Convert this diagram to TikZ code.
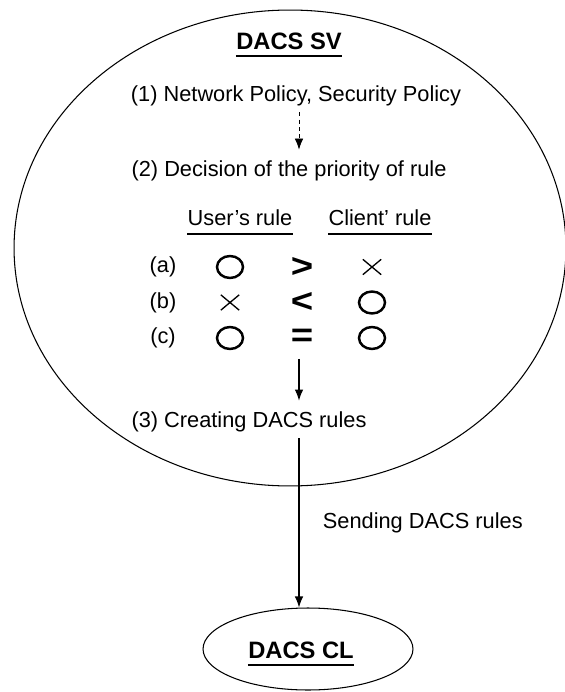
\documentclass[tikz,border=0pt]{standalone}
\usepackage{fontspec}
\setmainfont{Liberation Sans}
\usetikzlibrary{shapes.geometric,shapes.misc,arrows.meta}

\begin{document}
\begin{tikzpicture}[x=0.02cm, y=-0.02cm,
	>={Latex[length=2.2mm,width=1.7mm]},
	txt/.style={font=\fontsize{12.4}{14}\selectfont},
	head/.style={font=\fontsize{13.5}{15}\selectfont\bfseries, inner xsep=0pt},
	oper/.style={font=\fontsize{19}{19}\selectfont\bfseries, inner sep=1pt, xscale=1.15},
	okmark/.style={draw, ellipse, line width=1.4pt, inner sep=0pt,
		minimum width=0.52cm, minimum height=0.44cm},
	ngmark/.style={draw, cross out, line width=0.75pt, inner sep=0pt,
		minimum width=0.34cm, minimum height=0.28cm},
	uline/.style={line width=1.4pt}]

	% ---- frame

	\useasboundingbox (0,0) rectangle (564,692);

	% ---- parameters

	\def\spinex{299}

	\coordinate (spine) at (\spinex,0);

	% ---- server

	\draw[line width=0.6pt] (290,248) ellipse (5.52cm and 4.76cm);

	\node[head] (sv) at (289,41) {DACS SV};
	\draw[uline] ([yshift=-1.4mm]sv.base west) -- ([yshift=-1.4mm]sv.base east);

	\node[txt] (p1) at (296,96) {(1) Network Policy, Security Policy};
	\node[txt] (p2) at (289,171) {(2) Decision of the priority of rule};

	\draw[->, dash pattern=on 2.2pt off 2pt] (p1.south -| spine) -- ([yshift=1mm]p2.north -| spine);

	% ---- rule table

	\node[txt, inner xsep=0pt] (usr) at (240,218) {User's rule};
	\node[txt, inner xsep=0pt] (cli) at (380,218) {Client' rule};
	\draw[uline] ([yshift=-1.6mm]usr.base west) -- ([yshift=-1.6mm]usr.base east);
	\draw[uline] ([yshift=-1.6mm]cli.base west) -- ([yshift=-1.6mm]cli.base east);

	\foreach \lab/\op [count=\i] in {a/>, b/<, c/=} {
		\pgfmathsetmacro{\rowy}{267+35.5*(\i-1)}
		\node[txt] (lbl\i) at (163,\rowy) {(\lab)};
		\node[oper] (op\i) at (302,\rowy) {\op};
	}

	\node[okmark] (usr1) at (230,267) {};
	\node[ngmark] (cli1) at (372,267) {};
	\node[ngmark] (usr2) at (230,302.5) {};
	\node[okmark] (cli2) at (372,302.5) {};
	\node[okmark] (usr3) at (230,338) {};
	\node[okmark] (cli3) at (372,338) {};

	\node[txt] (p3) at (249,422) {(3) Creating DACS rules};

	\draw[->, line width=0.6pt] ([yshift=-2mm]op3.south -| spine) -- ([yshift=1mm]p3.north -| spine);

	% ---- client

	\node[draw, ellipse, line width=0.6pt, minimum width=4.2cm, minimum height=1.64cm] (cl) at (308,649) {};
	\node[head] (cltxt) at (301,650) {DACS CL};
	\draw[uline] ([yshift=-1.4mm]cltxt.base west) -- ([yshift=-1.4mm]cltxt.base east);

	\draw[->, line width=0.6pt] (p3.south -| spine) -- (cl.north -| spine)
		node[txt, midway, right=0.35cm] (send) {Sending DACS rules};

\end{tikzpicture}
\end{document}
